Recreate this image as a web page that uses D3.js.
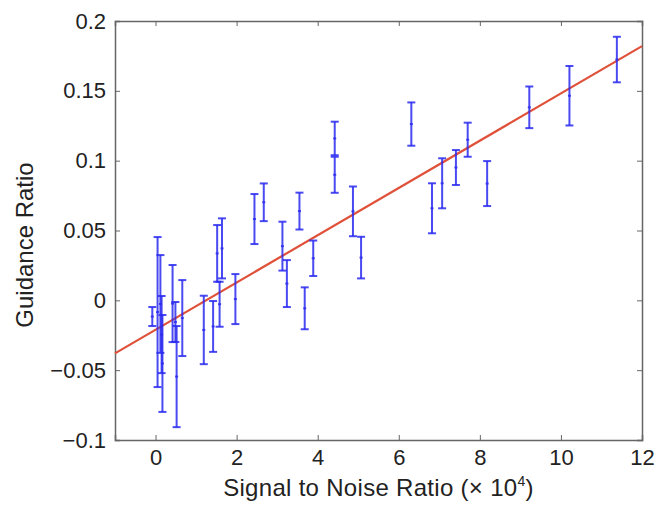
<!DOCTYPE html>
<html>
<head>
<meta charset="utf-8">
<script src="https://cdn.jsdelivr.net/npm/d3@7"></script>
<style>
  body { margin: 0; background: #fff; }
  text { font-family: "Liberation Sans", Arial, sans-serif; fill: #222; }
</style>
</head>
<body>
<div id="chart"></div>
<script>
// signal to noise ratio (x 10^4), guidance ratio, half error
const snr = [-0.08, 0.05, 0.12, 0.17, 0.15, 0.42, 0.49, 0.52, 0.66, 1.19, 1.42, 1.52, 1.58, 1.64,
  1.97, 2.44, 2.67, 3.13, 3.24, 3.55, 3.68, 3.89, 4.42, 4.42, 4.87, 5.07, 6.31, 6.82, 7.07,
  7.41, 7.70, 8.18, 9.22, 10.21, 11.38];
const ratio = [-0.0116, -0.0084, -0.0026, -0.0452, -0.0245, -0.0023, -0.0155, -0.0546, -0.0127,
  -0.0212, -0.0187, 0.0336, -0.0028, 0.0372, 0.0009, 0.0582, 0.0702, 0.0388, 0.012, 0.0639,
  -0.0057, 0.0301, 0.1159, 0.0899, 0.0637, 0.0306, 0.1262, 0.0659, 0.0838, 0.0951, 0.115,
  0.0836, 0.1382, 0.1465, 0.1724];
const err = [0.0068, 0.0537, 0.035, 0.0347, 0.0276, 0.0276, 0.0143, 0.0362, 0.0272, 0.0245,
  0.0182, 0.0203, 0.0161, 0.0215, 0.0179, 0.0179, 0.0135, 0.0175, 0.0168, 0.0132, 0.015,
  0.0127, 0.012, 0.0129, 0.0178, 0.0149, 0.0155, 0.0179, 0.0179, 0.0125, 0.0122, 0.0161,
  0.0149, 0.0213, 0.0163];

// fitted line
const fitX = [-1, 12];
const fitY = [-0.038, 0.182];

const xTicks = [0, 2, 4, 6, 8, 10, 12];
const yTicks = [-0.1, -0.05, 0, 0.05, 0.1, 0.15, 0.2];

const width = 657, height = 505;
const margin = {top: 21, right: 15, bottom: 65, left: 115};

const svg = d3.select('#chart').append('svg')
    .attr('width', width)
    .attr('height', height);

const x = d3.scaleLinear().domain([-1, 12]).range([margin.left, width - margin.right]);
const y = d3.scaleLinear().domain([-0.1, 0.2]).range([height - margin.bottom, margin.top]);

const axisColor = '#666';

// axes, MATLAB style: ticks inside on all four sides
const fmt = d => d === 0 ? '0' : String(d).replace('-', '\u2212');

const gx = svg.append('g').attr('transform', `translate(0,${y(-0.1)})`)
    .call(d3.axisBottom(x).tickValues(xTicks).tickSize(-5).tickPadding(12).tickFormat(fmt));
const gxTop = svg.append('g').attr('transform', `translate(0,${y(0.2)})`)
    .call(d3.axisTop(x).tickValues(xTicks).tickSize(-5).tickFormat(''));
const gy = svg.append('g').attr('transform', `translate(${x(-1)},0)`)
    .call(d3.axisLeft(y).tickValues(yTicks).tickSize(-5).tickPadding(9).tickFormat(fmt));
const gyRight = svg.append('g').attr('transform', `translate(${x(12)},0)`)
    .call(d3.axisRight(y).tickValues(yTicks).tickSize(-5).tickFormat(''));

[gx, gxTop, gy, gyRight].forEach(g => {
  g.selectAll('path').attr('stroke', axisColor).attr('stroke-width', 1.5);
  g.selectAll('line').attr('stroke', axisColor);
  g.selectAll('text').style('font-size', '22px').attr('fill', '#222');
});
gx.selectAll('text').attr('dy', '0.6em');

// fit line
svg.append('line')
    .attr('x1', x(fitX[0])).attr('y1', y(fitY[0]))
    .attr('x2', x(fitX[1])).attr('y2', y(fitY[1]))
    .attr('stroke', '#e0513a')
    .attr('stroke-width', 2.2);

// error bars
const pts = snr.map((d, i) => ({x: d, y: ratio[i], e: err[i]}));
const bars = svg.append('g')
    .attr('stroke', '#2a2af0')
    .attr('stroke-width', 2)
    .attr('stroke-opacity', 0.85);

bars.selectAll('line.v').data(pts).enter().append('line')
    .attr('x1', d => x(d.x)).attr('x2', d => x(d.x))
    .attr('y1', d => y(d.y - d.e)).attr('y2', d => y(d.y + d.e));
bars.selectAll('line.top').data(pts).enter().append('line')
    .attr('x1', d => x(d.x) - 4).attr('x2', d => x(d.x) + 4)
    .attr('y1', d => y(d.y + d.e)).attr('y2', d => y(d.y + d.e));
bars.selectAll('line.bot').data(pts).enter().append('line')
    .attr('x1', d => x(d.x) - 4).attr('x2', d => x(d.x) + 4)
    .attr('y1', d => y(d.y - d.e)).attr('y2', d => y(d.y - d.e));
bars.selectAll('line.mid').data(pts).enter().append('line')
    .attr('x1', d => x(d.x) - 1.5).attr('x2', d => x(d.x) + 1.5)
    .attr('y1', d => y(d.y)).attr('y2', d => y(d.y));

// labels
svg.append('text')
    .attr('x', (x(-1) + x(12)) / 2)
    .attr('y', 496)
    .attr('text-anchor', 'middle')
    .style('font-size', '24px')
    .style('letter-spacing', '0.3px')
    .html('Signal to Noise Ratio (\u00d7 10<tspan dy="-10" font-size="14px">4</tspan><tspan dy="10">)</tspan>');

svg.append('text')
    .attr('transform', `translate(33,245) rotate(-90)`)
    .attr('text-anchor', 'middle')
    .style('font-size', '24px')
    .text('Guidance Ratio');
</script>
</body>
</html>
